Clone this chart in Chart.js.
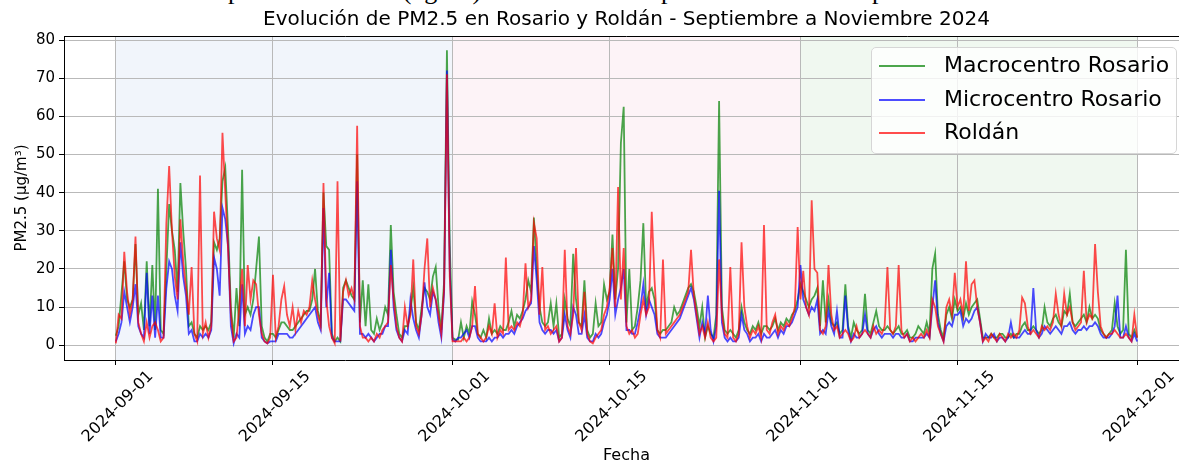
<!DOCTYPE html>
<html>
<head>
<meta charset="utf-8">
<script src="https://cdn.jsdelivr.net/npm/chart.js@4.4.1/dist/chart.umd.min.js"></script>
<style>
html,body{margin:0;padding:0;background:#fff;overflow:hidden;width:1179px;height:465px;}
#wrap{position:relative;width:1179px;height:465px;overflow:hidden;}
#c{position:absolute;left:0;top:0;}
#caption{position:absolute;left:129px;top:-22px;font-family:"Liberation Serif";font-size:26px;line-height:1;white-space:nowrap;color:#000;}
#legend{position:absolute;left:871px;top:47px;width:306px;height:107px;box-sizing:border-box;border:1px solid #d6d6d6;border-radius:5px;background:rgba(255,255,255,0.8);font-family:"DejaVu Sans";font-size:22px;color:#000;}
#legend .ln{position:absolute;left:7px;width:46px;height:2px;}
#legend .tx{position:absolute;left:72px;height:30px;line-height:30px;white-space:nowrap;}
</style>
</head>
<body>
<div id="wrap">
<div id="caption">Serie temporal del PM2.5 (ug/m³) en los tres sitios para los meses de septiembre a noviembre</div>
<canvas id="c" width="1253" height="465" style="width:1253px;height:465px"></canvas>
<div id="legend"></div>
</div>
<script>
// ---------------- DATA (6-hourly values) ----------------
// x positions: day index from 2024-09-01 00:00, one value every 6 hours
const stepDays = 0.25;
const tickDays   = [0, 14, 30, 44, 61, 75, 91];
const tickLabels = ['2024-09-01','2024-09-15','2024-10-01','2024-10-15','2024-11-01','2024-11-15','2024-12-01'];
const yTicks = [0, 10, 20, 30, 40, 50, 60, 70, 80];
const seriesNames = ['Macrocentro Rosario', 'Microcentro Rosario', 'Roldán'];
const monthSpans = [[0, 30], [30, 61], [61, 91]];

const macrocentro = [
 2.5,5,13.5,22, 12,10,12,26.5, 8,11,4,22, 5,21,4,41, 4,3,20,37,
 30,25,14,42.5, 30,20,5,6, 3,2,5,4, 5,4,6,27, 25,28,43,46.5,
 30,10,2,15, 5,46,8,10, 8,12,20,28.5, 5,2,1,3, 3,2,4,6,
 6,5,4,4, 5,6,7,8, 9,9,12,20, 9,6,40,26, 25,3,1,2,
 1,15,17,15, 13,12,50,6, 17,5,16,4, 3,7,4,6, 10,8,31.5,14,
 8,3,2,5, 5,9,15,6, 4,10,15,14, 12,18,20.5,10, 4,17,77.3,26.5,
 2,1.5,1.5,6, 2,5,3,11.5, 8,3,2,4, 2,7,3,4, 3,5,4,4,
 6,9,5,8, 7,9,12,17, 14,33.5,20,10, 6,5,6,11, 5,11,2,3,
 12,7,5,24, 12,6,5,17, 4,2,3,11, 5,6,16,12, 14,29,12,20,
 53,62.5,6,20, 4,5,10,17, 32,10,14,15, 12,4,3,4, 4,5,6,10,
 8,9,11,13, 15,16,14,10, 5,10,2,5, 3,2,8,64, 10,4,3,4,
 3,2,4,10, 6,4,3,5, 4,6,3,5, 5,4,5,7, 4,6,5,7,
 6,8,9,12, 16,14,12,10, 12,13,15,5, 17,6,12,6, 5,6,3,4,
 16,5,2,6, 4,3,4,13.5, 4,3,6,9, 5,4,4,5, 4,3,4,5,
 3,3,4,2, 2,3,5,4, 3,6,3,20, 24,8,4,2, 8,10,7,12,
 9,10,7,11, 8,10,11,12, 7,2,2,2, 3,2,2,3, 3,2,2,3,
 2,3,3,5, 6,4,4,5, 4,3,4,10, 6,5,7,8, 6,5,9,8,
 13.5,6,5,6, 7,8,6,10, 7,8,7,4, 3,2,3,4, 11,5,3,4,
 25,3,2,4, 2
];

const microcentro = [
 1,3,6,14, 10,6,10,16, 5,3,2,19, 3,13,2,13, 2,2,15,22,
 20,13,9,27, 18,13,3,4, 1,1,3,2, 3,2,4,23, 20,13,36,33,
 26,5,0.5,3, 2,16,3,5, 4,8,10,10, 2,1,0.5,1, 1,1,3,3,
 3,3,2,2, 3,4,5,6, 7,8,9,10, 6,4,36,10, 19,2,1,1,
 1,12,12,11, 10,9,43,3, 3,2,3,2, 1,2,3,3, 5,5,25,10,
 4,2,1,4, 3,12,7,4, 2,8,16.5,10, 8,14,12,6, 2,14,72,20,
 1.5,1,2,2, 3,4,2,5, 5,2,1,1, 1,2,1,2, 2,3,2,3,
 3,4,3,5, 6,7,9,10, 11,26,17,6, 4,3,4,4, 3,4,1,2,
 8,4,2,10, 8,3,3,8, 2,1,1,3, 2,3,6,8, 12,20,8,12,
 15,20,4,4, 3,3,6,10, 16,8,12,10, 8,3,2,2, 2,3,4,5,
 6,7,9,11, 13,15,12,7, 2,6,3,13, 4,1,5,40.5, 6,2,1,2,
 1,1,2,8, 4,3,1,2, 2,3,1,3, 2,2,3,4, 2,4,3,5,
 5,6,8,10, 21,12,10,8, 10,9,12,3, 4,3,9,5, 3,9,2,2,
 13,4,1,3, 2,2,3,8, 3,2,4,5, 3,2,3,3, 3,2,3,3,
 2,2,3,1, 1,2,2,2, 2,3,2,10, 17,6,3,1, 5,6,5,8,
 8,9,5,7, 6,7,9,10, 6,1,3,2, 2,3,1,2, 2,1,2,6,
 2,2,2,3, 4,3,3,15, 4,2,3,5, 4,3,4,5, 4,3,5,5,
 6,4,3,4, 4,5,4,5, 5,6,5,3, 2,2,2,3, 5,13,2,2,
 5,2,1,3, 1
];

const roldan = [
 0.5,8,7,24.5, 14,8,12,28.5, 6,3,1,6, 2,5,6,4, 1,2,32,47,
 30,18,12,33, 22,15,8,20.5, 3,1,44.5,3, 6,2,5,35, 28,25,55.7,40,
 25,8,1,2, 10,20,5,21, 12,17,16,8, 3,1,0.5,2, 18.5,2,5,12,
 15.5,8,5,10, 4,9,6,9, 8,10,17,12, 8,5,42.5,12, 5,2,0.5,43,
 1,14,17,13, 15,12,57.5,5, 2,2,1,2, 1,3,2,4, 5,6,21,12,
 5,2,1,10, 5,8,22.5,5, 3,8,20,28, 10,15,12,8, 3,15,71,18,
 1,1,1,1, 2,1,2,5, 15.5,3,2,1, 2,5,3,11, 2,4,3,23,
 4,5,4,6, 5,8,21.5,10, 12,32,28,8, 20.5,4,5,3, 4,5,1,2,
 25,5,3,8, 25.5,6,4,14, 3,1,0.5,2, 3,4,8,10, 15,25.5,10,41.5,
 12,25.5,5,3, 4,2,3,8, 12,8,10,35, 17,4,2,22.5, 3,4,5,6,
 7,8,10,12, 14,25,13,8, 3,5,2,6, 2,1,2,22.5, 8,3,2,20.5,
 2,1,3,27, 10,5,2,4, 3,5,2,31.5, 4,3,6,8, 3,5,4,6,
 5,7,10,31, 12,19.5,10,8, 38,20,19,4, 3,5,21,8, 4,5,2,3,
 4,3,1,2, 5,2,3,4, 3,2,5,3, 4,3,5,20.5, 4,3,5,21,
 4,2,3,1, 2,1,2,3, 2,4,2,12, 10,5,3,1, 10,12,8,19,
 10,12,8,22, 9,16,17,10, 6,1,2,1, 3,2,1,3, 2,1,3,2,
 3,2,4,12.5, 11,5,3,4, 3,2,5,4, 5,4,6,13.5, 8,5,13.5,8,
 10,6,4,5, 6,19.5,6,8, 7,26.5,14,5, 3,2,3,3, 4,3,2,2,
 3,2,1,8, 2
];
// ------------------------------------------------------------------------------

const lineColors = ['rgba(0,128,0,0.7)', 'rgba(0,0,255,0.7)', 'rgba(255,0,0,0.7)'];
const spanColors = ['rgba(70,120,200,0.075)', 'rgba(230,80,140,0.07)', 'rgba(60,170,60,0.08)'];
const seriesData = [macrocentro, microcentro, roldan];

const toPoints = arr => arr.map((v, i) => ({x: i * stepDays, y: v}));

const datasets = seriesNames.map((name, k) => ({
  label: name,
  data: toPoints(seriesData[k]),
  borderColor: lineColors[k],
  borderWidth: 1.8,
  pointRadius: 0,
  tension: 0,
  fill: false,
  order: 3 - k
}));

const shadePlugin = {
  id: 'shade',
  beforeDraw(chart) {
    const {ctx, chartArea: a, scales: {x}} = chart;
    ctx.save();
    monthSpans.forEach((s, i) => {
      const x0 = x.getPixelForValue(s[0]);
      const x1 = x.getPixelForValue(s[1]);
      ctx.fillStyle = spanColors[i];
      ctx.fillRect(x0, a.top, x1 - x0, a.bottom - a.top);
    });
    ctx.restore();
  },
  afterDraw(chart) {
    const {ctx, chartArea: a} = chart;
    ctx.save();
    ctx.strokeStyle = '#000';
    ctx.lineWidth = 1;
    ctx.beginPath();
    ctx.moveTo(a.left, Math.round(a.top) + 0.5);
    ctx.lineTo(a.right, Math.round(a.top) + 0.5);
    ctx.stroke();
    ctx.restore();
  }
};

new Chart(document.getElementById('c'), {
  type: 'line',
  data: {datasets},
  plugins: [shadePlugin],
  options: {
    responsive: false,
    animation: false,
    devicePixelRatio: 1,
    layout: {padding: {left: 0, right: 0, top: 0, bottom: 0}},
    plugins: {
      legend: {display: false},
      tooltip: {enabled: false},
      title: {
        display: true,
        text: 'Evolución de PM2.5 en Rosario y Roldán - Septiembre a Noviembre 2024',
        color: '#000',
        font: {family: 'DejaVu Sans', size: 20, weight: 'normal'},
        padding: {top: 8, bottom: 4}
      }
    },
    scales: {
      x: {
        type: 'linear',
        min: -4.62,
        max: 95.62,
        afterBuildTicks(scale) { scale.ticks = tickDays.map(v => ({value: v})); },
        afterFit(scale) { scale.height = 105; scale.paddingLeft = 0; scale.paddingRight = 0; },
        ticks: {
          autoSkip: false,
          minRotation: 45,
          maxRotation: 45,
          labelOffset: 35,
          padding: 2,
          color: '#000',
          font: {family: 'DejaVu Sans', size: 16},
          callback: (v, i) => tickLabels[i]
        },
        grid: {color: '#b9b9b9', lineWidth: 1, tickColor: '#000', tickLength: 5, tickWidth: 1},
        border: {color: '#000', width: 1},
        title: {display: true, text: 'Fecha', color: '#000', font: {family: 'DejaVu Sans', size: 16}, padding: {top: 0, bottom: 0}}
      },
      y: {
        type: 'linear',
        position: 'left',
        min: -3.86,
        max: 81.05,
        afterBuildTicks(scale) { scale.ticks = yTicks.map(v => ({value: v})); },
        afterFit(scale) { scale.width = 64; scale.paddingTop = 0; scale.paddingBottom = 0; },
        ticks: {color: '#000', font: {family: 'DejaVu Sans', size: 15}, padding: 4, callback: v => String(v)},
        grid: {color: '#b9b9b9', lineWidth: 1, tickColor: '#000', tickLength: 5, tickWidth: 1},
        border: {color: '#000', width: 1},
        title: {display: true, text: 'PM2.5 (μg/m³)', color: '#000', font: {family: 'DejaVu Sans', size: 15}, padding: {top: 13, bottom: 0}}
      },
      yRight: {
        type: 'linear',
        position: 'right',
        min: -3.86,
        max: 81.05,
        display: true,
        afterFit(scale) { scale.width = 64; },
        ticks: {display: false},
        grid: {display: false, drawOnChartArea: false},
        border: {display: false},
        title: {display: false}
      }
    }
  }
});

// HTML legend built from the series definitions
const legend = document.getElementById('legend');
const rowY = [18, 52, 85];
seriesNames.forEach((name, k) => {
  const ln = document.createElement('div');
  ln.className = 'ln';
  ln.style.top = (rowY[k] - 1) + 'px';
  ln.style.background = lineColors[k];
  legend.appendChild(ln);
  const tx = document.createElement('div');
  tx.className = 'tx';
  tx.style.top = (rowY[k] - 16) + 'px';
  tx.textContent = name;
  legend.appendChild(tx);
});
</script>
</body>
</html>
